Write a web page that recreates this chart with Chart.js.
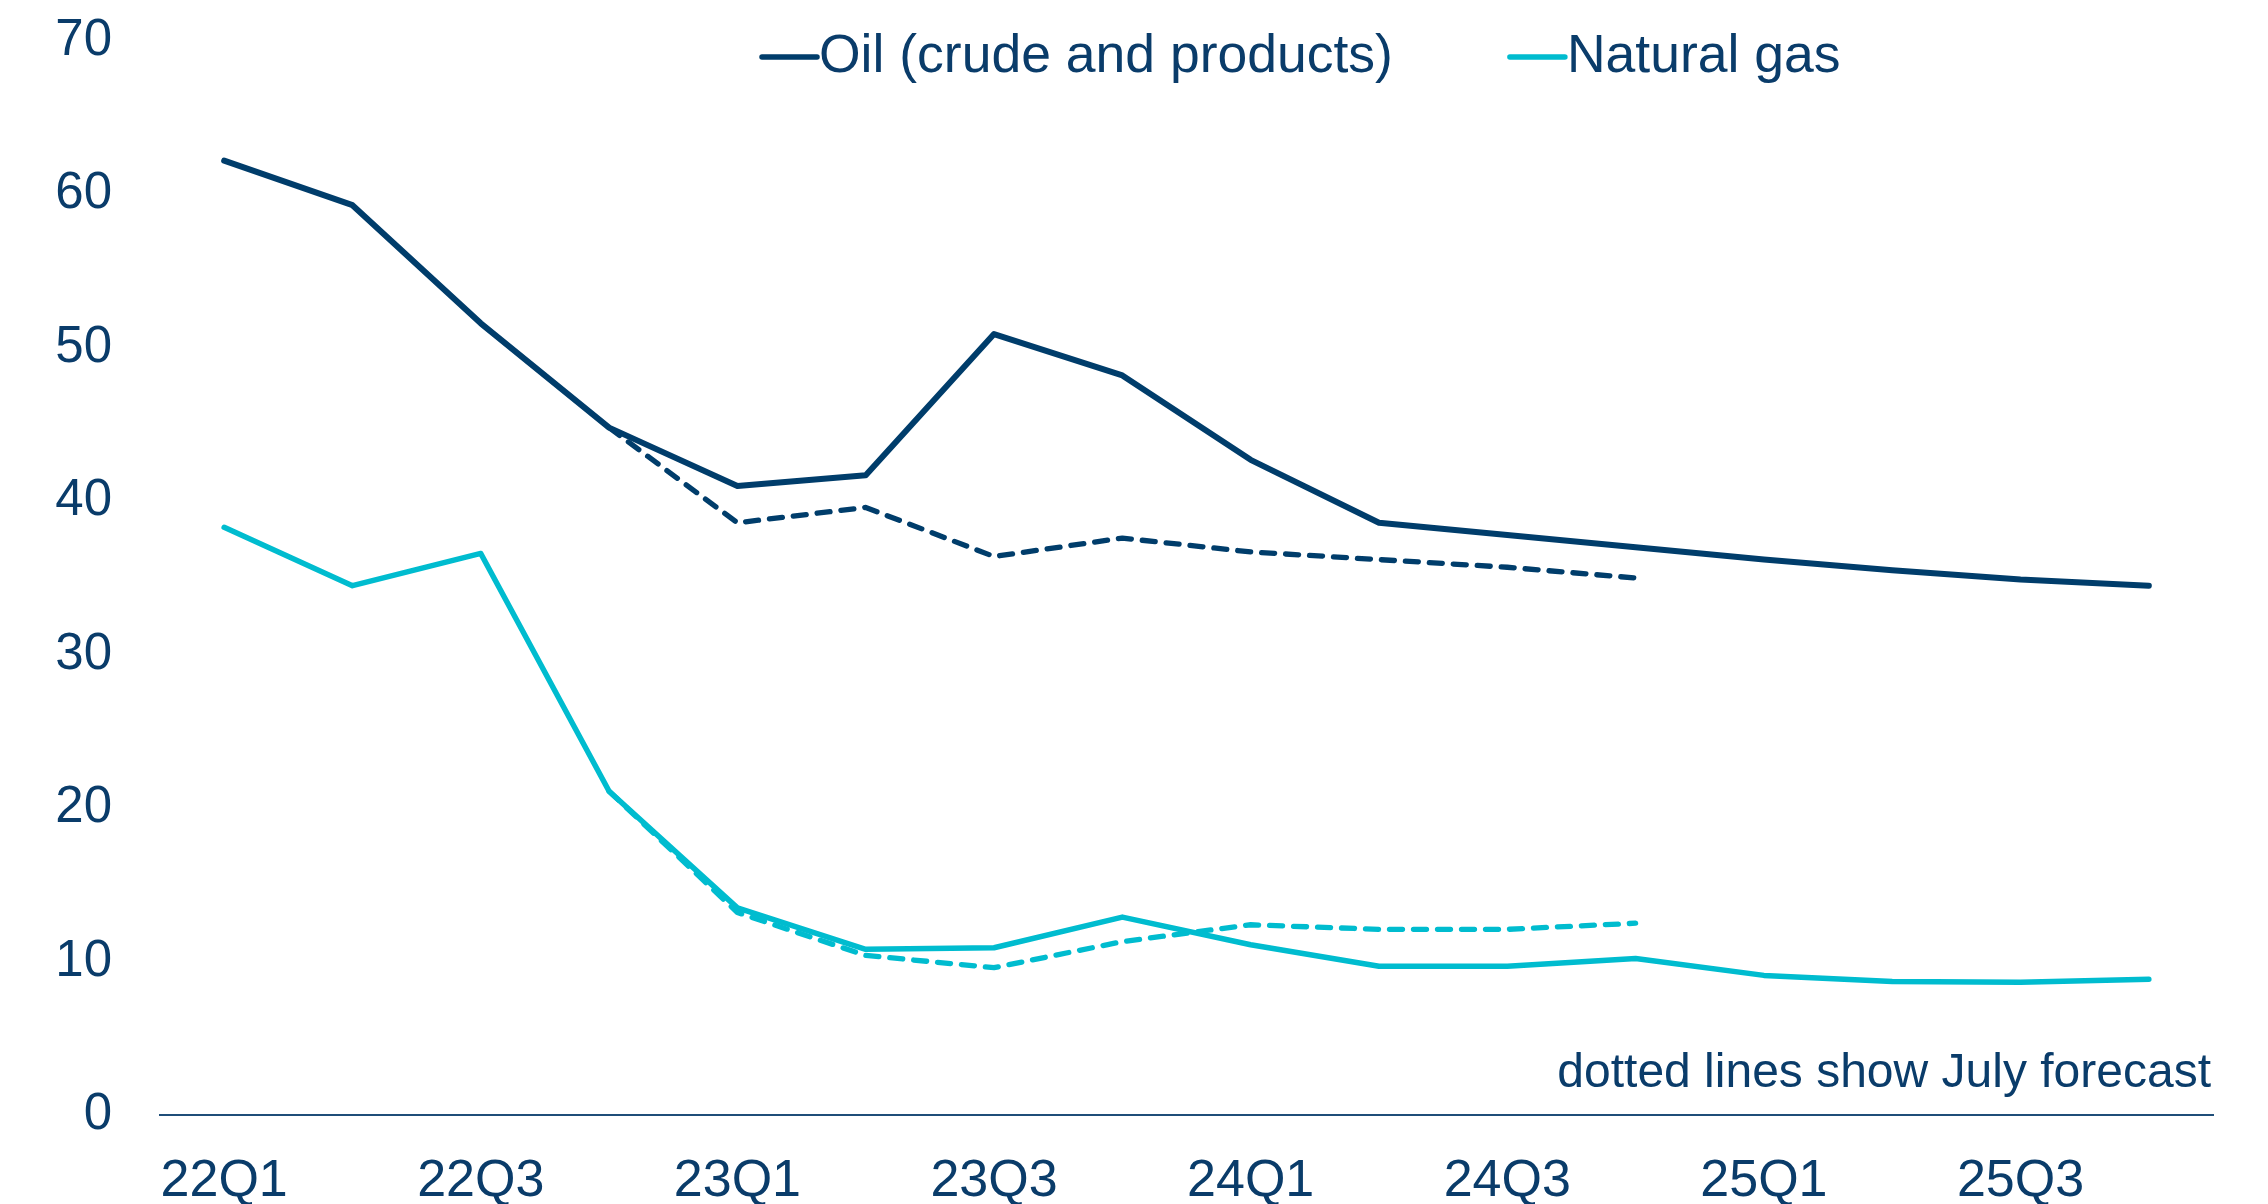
<!DOCTYPE html>
<html>
<head>
<meta charset="utf-8">
<script src="https://cdn.jsdelivr.net/npm/chart.js@4.4.1/dist/chart.umd.min.js"></script>
<style>
  html, body { margin: 0; padding: 0; background: #ffffff; }
  #wrap { width: 2268px; height: 1204px; }
</style>
</head>
<body>
<div id="wrap"><canvas id="energyChart"></canvas></div>
<script>
const quarters = ["22Q1", "22Q2", "22Q3", "22Q4", "23Q1", "23Q2", "23Q3", "23Q4",
  "24Q1", "24Q2", "24Q3", "24Q4", "25Q1", "25Q2", "25Q3", "25Q4"];
const oilData = [62.2, 59.3, 51.6, 44.8, 41.0, 41.7, 50.9, 48.2, 42.7, 38.6, 37.8, 37.0, 36.2, 35.5, 34.9, 34.5];
const gasData = [38.3, 34.5, 36.6, 21.1, 13.5, 10.8, 10.9, 12.9, 11.1, 9.7, 9.7, 10.2, 9.1, 8.7, 8.65, 8.85];
const oilJuly = [null, null, null, 44.8, 38.6, 39.6, 36.4, 37.6, 36.7, 36.2, 35.7, 35.0, null, null, null, null];
const gasJuly = [null, null, null, 21.1, 13.2, 10.4, 9.6, 11.3, 12.4, 12.1, 12.1, 12.5, null, null, null, null];
const yTicks = [0, 10, 20, 30, 40, 50, 60, 70];
const noteText = "dotted lines show July forecast";

const navy = "#003d6b";
const cyan = "#00bccf";
const textColor = "#0a3c6a";
const fontFamily = "'Liberation Sans', Arial, sans-serif";

// simple legend, only the two solid series, sitting inside the plot at the top
const lineLegend = {
  id: "lineLegend",
  afterDraw(chart) {
    const ctx = chart.ctx;
    const items = chart.data.datasets.slice(0, 2);
    let x = 762;
    const y = 57;
    ctx.save();
    ctx.font = "53.5px " + fontFamily;
    ctx.textBaseline = "middle";
    ctx.lineCap = "round";
    ctx.lineWidth = 5.5;
    items.forEach((ds) => {
      ctx.strokeStyle = ds.borderColor;
      ctx.beginPath();
      ctx.moveTo(x, y);
      ctx.lineTo(x + 55, y);
      ctx.stroke();
      ctx.fillStyle = textColor;
      ctx.fillText(ds.label, x + 57, y);
      x += 57 + ctx.measureText(ds.label).width + 117;
    });
    ctx.restore();
  }
};

const notePlugin = {
  id: "note",
  afterDraw(chart) {
    const { ctx, chartArea, scales } = chart;
    ctx.save();
    ctx.font = "48px " + fontFamily;
    ctx.fillStyle = textColor;
    ctx.textAlign = "right";
    ctx.textBaseline = "middle";
    ctx.fillText(noteText, chartArea.right - 2, scales.y.getPixelForValue(2.7));
    ctx.restore();
  }
};

const lineStyle = {
  pointRadius: 0,
  tension: 0,
  borderCapStyle: "round",
  borderJoinStyle: "round"
};

new Chart(document.getElementById("energyChart"), {
  type: "line",
  data: {
    labels: quarters,
    datasets: [
      { label: "Oil (crude and products)", data: oilData, borderColor: navy, borderWidth: 6, ...lineStyle },
      { label: "Natural gas", data: gasData, borderColor: cyan, borderWidth: 5.5, ...lineStyle },
      { label: "Oil July forecast", data: oilJuly, borderColor: navy, borderWidth: 5.3, borderDash: [13, 11], ...lineStyle },
      { label: "Gas July forecast", data: gasJuly, borderColor: cyan, borderWidth: 5.3, borderDash: [13, 11], ...lineStyle }
    ]
  },
  options: {
    responsive: true,
    maintainAspectRatio: false,
    animation: false,
    layout: {
      padding: { left: 0, right: 55, top: 41, bottom: 0 }
    },
    plugins: {
      tooltip: { enabled: false },
      legend: { display: false }
    },
    scales: {
      x: {
        offset: true,
        grid: { display: false, drawTicks: false },
        border: { display: true, color: "#1f4e79", width: 2 },
        ticks: {
          autoSkip: false,
          maxRotation: 0,
          color: textColor,
          font: { size: 52, family: fontFamily },
          padding: 35,
          callback: (value, index) => (index % 2 === 0 ? quarters[index] : "")
        },
        afterFit: (scale) => {
          scale.height = 89;
          scale.paddingLeft = 0;
          scale.paddingRight = 0;
        }
      },
      y: {
        min: 0,
        max: 70,
        afterBuildTicks: (scale) => {
          scale.ticks = yTicks.map((v) => ({ value: v }));
        },
        grid: { display: false, drawTicks: false },
        border: { display: false },
        ticks: {
          color: textColor,
          font: { size: 51, family: fontFamily },
          padding: 48
        },
        afterFit: (scale) => {
          scale.width = 160;
          scale.paddingTop = 0;
          scale.paddingBottom = 0;
        }
      }
    }
  },
  plugins: [lineLegend, notePlugin]
});
</script>
</body>
</html>
